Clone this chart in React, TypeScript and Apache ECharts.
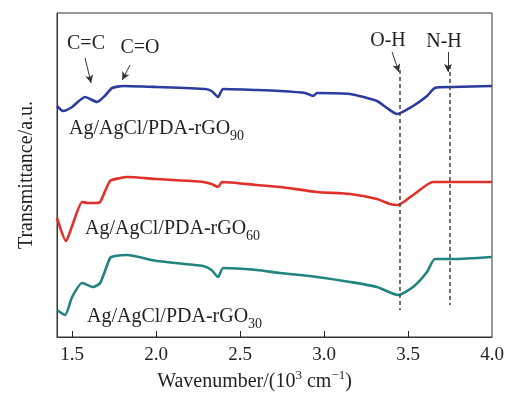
import React, { useEffect, useRef } from "react";
import * as echarts from "echarts";

// wavenumber (10^3 cm^-1) and relative transmittance (a.u., offset per curve)
const rgo90X = [1.41, 1.446, 1.5, 1.577, 1.649, 1.7, 1.738, 1.804, 2.0, 2.292, 2.33, 2.369, 2.399, 2.6, 2.738, 2.887, 2.935, 2.958, 3.155, 3.315, 3.375, 3.435, 3.53, 3.613, 3.66, 3.768, 4.0];
const rgo90Y = [231, 226, 230, 240, 235, 242, 249, 251, 250, 248, 246, 240, 248, 247, 246, 244, 241, 244, 243, 236, 229, 223, 231, 241, 249, 250, 251];

const rgo60X = [1.41, 1.464, 1.5, 1.56, 1.595, 1.637, 1.667, 1.726, 1.786, 1.827, 2.0, 2.28, 2.33, 2.369, 2.393, 2.6, 2.738, 2.958, 3.155, 3.315, 3.393, 3.44, 3.53, 3.649, 3.768, 4.0];
const rgo60Y = [119, 96, 111, 135, 134, 134, 135, 156, 159, 160, 158, 155, 153, 150, 155, 152, 150, 145, 143, 138, 133, 132, 142, 155, 155, 155];

const rgo30X = [1.41, 1.458, 1.5, 1.56, 1.625, 1.667, 1.726, 1.756, 1.827, 2.006, 2.28, 2.33, 2.369, 2.399, 2.6, 2.738, 2.958, 3.155, 3.315, 3.44, 3.53, 3.613, 3.66, 3.768, 4.0];
const rgo30Y = [27, 22, 40, 54, 50, 54, 79, 81, 82, 76, 71, 67, 60, 69, 67, 64, 60, 55, 50, 42, 50, 65, 78, 78, 80];

const xTicks = [1.5, 2.0, 2.5, 3.0, 3.5, 4.0];

// dashed guide lines: [wavenumber, top, bottom]
const guideOH = [3.45, 267, 27];
const guideNH = [3.75, 272, 32];

// arrows: [x1, y1, x2, y2]
const arrows = [
  [1.577, 279, 1.613, 254],
  [1.845, 272, 1.798, 257],
  [3.405, 285, 3.446, 265],
  [3.738, 285, 3.738, 265],
];

const FONT = "'Liberation Serif', 'Times New Roman', serif";
const TXT = "#231f20";

function zip(xs: number[], ys: number[]) {
  return xs.map((x, i) => [x, ys[i]]);
}

export default function App() {
  const ref = useRef<HTMLDivElement>(null);
  useEffect(() => {
    if (!ref.current) return;
    const chart = echarts.init(ref.current, null, { renderer: "svg" });
    const sampleLabel = (name: string, sub: string, left: number, top: number) => ({
      type: "text",
      left,
      top,
      style: {
        text: `{a|${name}}{b|${sub}}`,
        rich: {
          a: { fontFamily: FONT, fontSize: 20, lineHeight: 25, verticalAlign: "top", fill: TXT },
          b: { fontFamily: FONT, fontSize: 14, lineHeight: 14, verticalAlign: "bottom", fill: TXT },
        },
      },
    });
    const note = (t: string, cx: number, cy: number) => ({
      type: "text",
      x: cx,
      y: cy,
      style: {
        text: t,
        fontFamily: FONT,
        fontSize: 20,
        fill: TXT,
        align: "center",
        verticalAlign: "middle",
      },
    });
    chart.setOption({
      animation: false,
      grid: {
        left: 57,
        right: 28,
        top: 13,
        bottom: 61,
        show: true,
        borderColor: "#333",
        borderWidth: 1,
        backgroundColor: "transparent",
      },
      xAxis: {
        type: "value",
        min: 1.41,
        max: 4.0,
        name: "Wavenumber/(10{sup|3} cm{sup|\u22121})",
        nameLocation: "middle",
        nameGap: 28,
        nameTextStyle: {
          fontFamily: FONT,
          fontSize: 20,
          color: TXT,
          lineHeight: 24,
          padding: [0, 40, 0, 0],
          rich: {
            sup: { fontFamily: FONT, fontSize: 13, lineHeight: 13, verticalAlign: "top", color: TXT },
          },
        },
        axisLine: { onZero: false, lineStyle: { color: "#333", width: 1 } },
        axisTick: { inside: true, length: 6, customValues: xTicks.filter((v) => v < 4), lineStyle: { color: "#222" } },
        axisLabel: {
          customValues: xTicks,
          formatter: (v: number) => v.toFixed(1),
          fontFamily: FONT,
          fontSize: 19,
          color: TXT,
          margin: 7,
        },
        splitLine: { show: false },
      },
      yAxis: {
        type: "value",
        min: 0,
        max: 324,
        name: "Transmittance/a.u.",
        nameLocation: "middle",
        nameGap: 22,
        nameTextStyle: { fontFamily: FONT, fontSize: 20, color: TXT },
        axisLine: { show: true, lineStyle: { color: "#333", width: 1 } },
        axisTick: { show: false },
        axisLabel: { show: false },
        splitLine: { show: false },
      },
      series: [
        {
          name: "Ag/AgCl/PDA-rGO90",
          type: "line",
          data: zip(rgo90X, rgo90Y),
          showSymbol: false,
          smooth: 0.2,
          lineStyle: { color: "#2b3c9e", width: 2.6 },
          markLine: {
            silent: true,
            symbol: ["none", "none"],
            label: { show: false },
            lineStyle: { color: "#444", type: [4, 3], width: 1.5 },
            data: [
              [{ coord: [guideOH[0], guideOH[1]] }, { coord: [guideOH[0], guideOH[2]] }],
              [{ coord: [guideNH[0], guideNH[1]] }, { coord: [guideNH[0], guideNH[2]] }],
            ],
          },
        },
        {
          name: "Ag/AgCl/PDA-rGO60",
          type: "line",
          data: zip(rgo60X, rgo60Y),
          showSymbol: false,
          smooth: 0.2,
          lineStyle: { color: "#e0302a", width: 2.6 },
        },
        {
          name: "Ag/AgCl/PDA-rGO30",
          type: "line",
          data: zip(rgo30X, rgo30Y),
          showSymbol: false,
          smooth: 0.2,
          lineStyle: { color: "#22847f", width: 2.6 },
          markLine: {
            silent: true,
            symbol: ["none", "arrow"],
            symbolSize: [6, 8],
            label: { show: false },
            lineStyle: { color: "#333", type: "solid", width: 1 },
            data: arrows.map((a) => [{ coord: [a[0], a[1]] }, { coord: [a[2], a[3]] }]),
          },
        },
      ],
      graphic: [
        note("C=C", 86, 42),
        note("C=O", 140, 46),
        note("O-H", 388, 39),
        note("N-H", 444, 40),
        sampleLabel("Ag/AgCl/PDA-rGO", "90", 69, 117),
        sampleLabel("Ag/AgCl/PDA-rGO", "60", 85, 217),
        sampleLabel("Ag/AgCl/PDA-rGO", "30", 87, 305),
      ],
    });
    return () => chart.dispose();
  }, []);
  return <div ref={ref} style={{ position: "fixed", left: 0, top: 0, width: 520, height: 398 }} />;
}
